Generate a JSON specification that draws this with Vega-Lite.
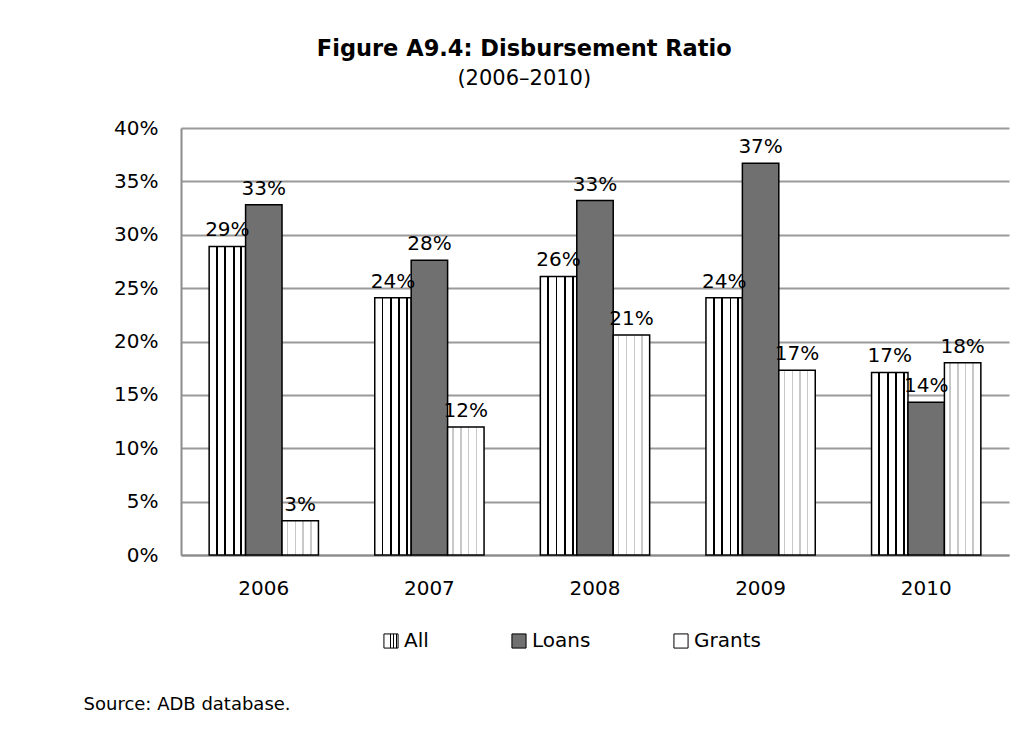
{
  "$schema": "https://vega.github.io/schema/vega-lite/v6.json",
  "background": "white",
  "padding": {"left": 83, "top": 37, "right": 5, "bottom": 5},
  "title": {
    "text": "Figure A9.4: Disbursement Ratio",
    "subtitle": "(2006–2010)",
    "anchor": "middle",
    "dx": -22,
    "font": "DejaVu Sans",
    "fontSize": 22.5,
    "fontWeight": "bold",
    "color": "black",
    "subtitleFont": "DejaVu Sans",
    "subtitleFontSize": 21,
    "subtitleColor": "black",
    "subtitlePadding": 8,
    "offset": 29
  },
  "data": {
    "values": [
      {"year": "2006", "series": "All", "value": 0.289},
      {"year": "2006", "series": "Loans", "value": 0.328},
      {"year": "2006", "series": "Grants", "value": 0.032},
      {"year": "2007", "series": "All", "value": 0.241},
      {"year": "2007", "series": "Loans", "value": 0.276},
      {"year": "2007", "series": "Grants", "value": 0.120},
      {"year": "2008", "series": "All", "value": 0.261},
      {"year": "2008", "series": "Loans", "value": 0.332},
      {"year": "2008", "series": "Grants", "value": 0.206},
      {"year": "2009", "series": "All", "value": 0.241},
      {"year": "2009", "series": "Loans", "value": 0.367},
      {"year": "2009", "series": "Grants", "value": 0.173},
      {"year": "2010", "series": "All", "value": 0.171},
      {"year": "2010", "series": "Loans", "value": 0.143},
      {"year": "2010", "series": "Grants", "value": 0.180}
    ]
  },
  "vconcat": [
    {
      "width": 828,
      "height": 427,
      "title": {
        "text": "Source: ADB database.",
        "orient": "bottom",
        "anchor": "start",
        "dx": -30,
        "offset": 45,
        "font": "DejaVu Sans",
        "fontSize": 18,
        "fontWeight": "normal",
        "color": "black"
      },
      "encoding": {
        "x": {
          "field": "year",
          "type": "nominal",
          "scale": {"paddingInner": 0.34, "paddingOuter": 0.17},
          "axis": {
            "title": null,
            "labelAngle": 0,
            "ticks": false,
            "labelPadding": 23,
            "labelFontSize": 20,
            "labelFont": "DejaVu Sans",
            "labelColor": "black",
            "domainColor": "#8c8c8c",
            "domainWidth": 2,
            "grid": false
          }
        },
        "xOffset": {"field": "series", "type": "nominal", "sort": ["All", "Loans", "Grants"], "scale": {"paddingInner": 0, "paddingOuter": 0}},
        "y": {
          "field": "value",
          "type": "quantitative",
          "scale": {"domain": [0, 0.4]},
          "axis": {
            "title": null,
            "format": ".0%",
            "values": [0, 0.05, 0.1, 0.15, 0.2, 0.25, 0.3, 0.35, 0.4],
            "ticks": false,
            "labelPadding": 23,
            "labelFontSize": 20,
            "labelFont": "DejaVu Sans",
            "labelColor": "black",
            "domainColor": "#8c8c8c",
            "domainWidth": 2,
            "gridColor": "#9a9a9a",
            "gridWidth": 2
          }
        }
      },
      "layer": [
        {
          "mark": {"type": "bar", "stroke": "black", "strokeWidth": 1.5},
          "encoding": {
            "fill": {
              "field": "series",
              "type": "nominal",
              "sort": ["All", "Loans", "Grants"],
              "scale": {
                "domain": ["All", "Loans", "Grants"],
                "range": [
                  {"expr": "{gradient: 'linear', x1: 0, x2: 1, y1: 0, y2: 0, stops: [{offset: 0, color: 'white'}, {offset: 0.19, color: 'white'}, {offset: 0.19, color: 'black'}, {offset: 0.24, color: 'black'}, {offset: 0.24, color: 'white'}, {offset: 0.42, color: 'white'}, {offset: 0.42, color: 'black'}, {offset: 0.47, color: 'black'}, {offset: 0.47, color: 'white'}, {offset: 0.65, color: 'white'}, {offset: 0.65, color: 'black'}, {offset: 0.70, color: 'black'}, {offset: 0.70, color: 'white'}, {offset: 0.86, color: 'white'}, {offset: 0.86, color: 'black'}, {offset: 0.91, color: 'black'}, {offset: 0.91, color: 'white'}, {offset: 1, color: 'white'}]}"},
                  "#707070",
                  {"expr": "{gradient: 'linear', x1: 0, x2: 1, y1: 0, y2: 0, stops: [{offset: 0, color: 'white'}, {offset: 0.13, color: 'white'}, {offset: 0.13, color: '#c8c8c8'}, {offset: 0.17, color: '#c8c8c8'}, {offset: 0.17, color: 'white'}, {offset: 0.35, color: 'white'}, {offset: 0.35, color: '#c8c8c8'}, {offset: 0.39, color: '#c8c8c8'}, {offset: 0.39, color: 'white'}, {offset: 0.56, color: 'white'}, {offset: 0.56, color: '#c8c8c8'}, {offset: 0.60, color: '#c8c8c8'}, {offset: 0.60, color: 'white'}, {offset: 0.77, color: 'white'}, {offset: 0.77, color: '#c8c8c8'}, {offset: 0.81, color: '#c8c8c8'}, {offset: 0.81, color: 'white'}, {offset: 1, color: 'white'}]}"}
                ]
              },
              "legend": {
                "title": null,
                "orient": "none",
                "legendX": 200,
                "legendY": 503,
                "direction": "horizontal",
                "symbolType": "square",
                "symbolSize": 200,
                "symbolStrokeColor": "black",
                "symbolStrokeWidth": 1,
                "labelFontSize": 20,
                "labelFont": "DejaVu Sans",
                "labelColor": "black",
                "labelOffset": 3,
                "columnPadding": 80
              }
            }
          }
        },
        {
          "mark": {"type": "text", "baseline": "bottom", "dy": -6, "fontSize": 20, "font": "DejaVu Sans", "color": "black"},
          "encoding": {
            "text": {"field": "value", "type": "quantitative", "format": ".0%"}
          }
        }
      ]
    }
  ],
  "resolve": {"legend": {"fill": "independent"}},
  "config": {
    "view": {"stroke": null}
  }
}
